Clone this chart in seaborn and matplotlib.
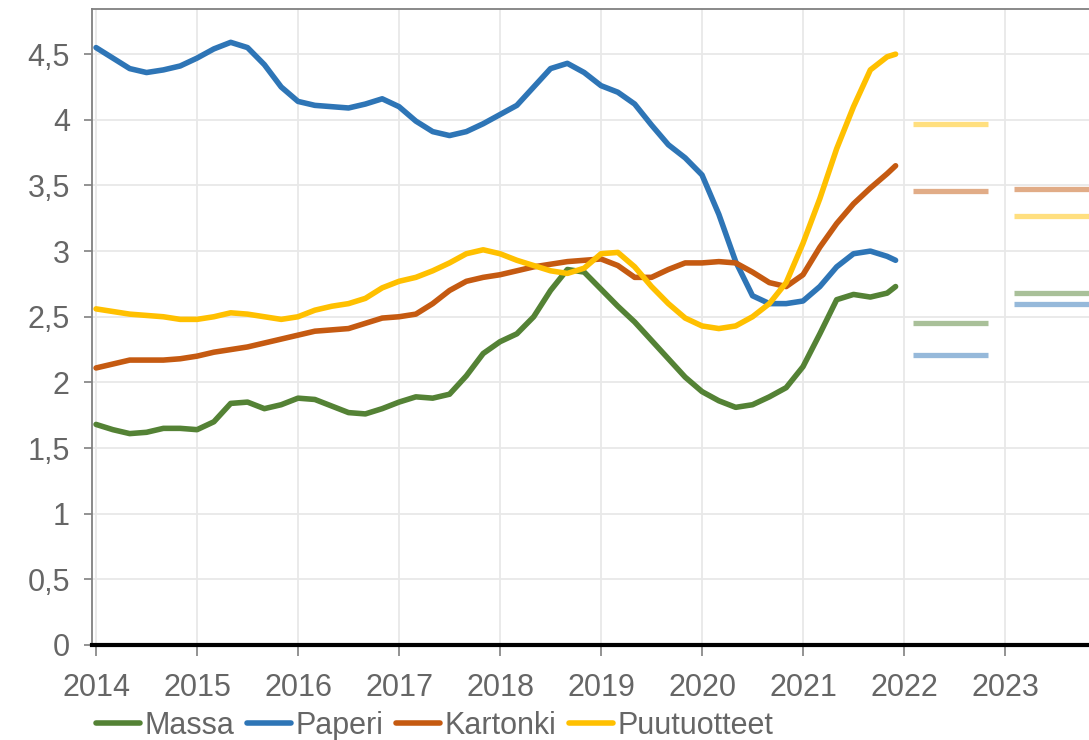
import matplotlib
matplotlib.use('Agg')

import numpy as np
import pandas as pd
import matplotlib.pyplot as plt
import seaborn as sns
from matplotlib.ticker import FuncFormatter

# readings every two months 2014..2021 plus Dec 2021
years = list(2014 + np.arange(48) / 6) + [2021 + 11 / 12]

massa = [1.68, 1.64, 1.61, 1.62, 1.65, 1.65,
         1.64, 1.70, 1.84, 1.85, 1.80, 1.83,
         1.88, 1.87, 1.82, 1.77, 1.76, 1.80,
         1.85, 1.89, 1.88, 1.91, 2.05, 2.22,
         2.31, 2.37, 2.50, 2.70, 2.86, 2.84,
         2.71, 2.58, 2.46, 2.32, 2.18, 2.04,
         1.93, 1.86, 1.81, 1.83, 1.89, 1.96,
         2.12, 2.37, 2.63, 2.67, 2.65, 2.68, 2.73]
paperi = [4.55, 4.47, 4.39, 4.36, 4.38, 4.41,
          4.47, 4.54, 4.59, 4.55, 4.42, 4.25,
          4.14, 4.11, 4.10, 4.09, 4.12, 4.16,
          4.10, 3.99, 3.91, 3.88, 3.91, 3.97,
          4.04, 4.11, 4.25, 4.39, 4.43, 4.36,
          4.26, 4.21, 4.12, 3.96, 3.81, 3.71,
          3.58, 3.28, 2.92, 2.66, 2.60, 2.60,
          2.62, 2.73, 2.88, 2.98, 3.00, 2.96, 2.93]
kartonki = [2.11, 2.14, 2.17, 2.17, 2.17, 2.18,
            2.20, 2.23, 2.25, 2.27, 2.30, 2.33,
            2.36, 2.39, 2.40, 2.41, 2.45, 2.49,
            2.50, 2.52, 2.60, 2.70, 2.77, 2.80,
            2.82, 2.85, 2.88, 2.90, 2.92, 2.93,
            2.94, 2.89, 2.80, 2.80, 2.86, 2.91,
            2.91, 2.92, 2.91, 2.84, 2.76, 2.73,
            2.82, 3.03, 3.21, 3.36, 3.48, 3.59, 3.65]
puutuotteet = [2.56, 2.54, 2.52, 2.51, 2.50, 2.48,
               2.48, 2.50, 2.53, 2.52, 2.50, 2.48,
               2.50, 2.55, 2.58, 2.60, 2.64, 2.72,
               2.77, 2.80, 2.85, 2.91, 2.98, 3.01,
               2.98, 2.93, 2.89, 2.85, 2.83, 2.87,
               2.98, 2.99, 2.88, 2.73, 2.60, 2.49,
               2.43, 2.41, 2.43, 2.50, 2.60, 2.76,
               3.06, 3.40, 3.78, 4.10, 4.38, 4.48, 4.50]

series_names = ['Massa', 'Paperi', 'Kartonki', 'Puutuotteet']
colors = ['#548235', '#2E75B6', '#C55A11', '#FFC000']

# forecasts for 2022 and 2023
forecast_years = [2022, 2023]
fc_massa = [2.45, 2.68]
fc_paperi = [2.21, 2.60]
fc_kartonki = [3.46, 3.47]
fc_puutuotteet = [3.97, 3.27]

df = pd.DataFrame({
    'vuosi': years * 4,
    'arvo': massa + paperi + kartonki + puutuotteet,
    'sarja': sum([[n] * len(years) for n in series_names], []),
})
fc = {'Massa': fc_massa, 'Paperi': fc_paperi,
      'Kartonki': fc_kartonki, 'Puutuotteet': fc_puutuotteet}

sns.set_theme(style='white')
plt.rcParams['font.family'] = ['Liberation Sans', 'DejaVu Sans']

fig = plt.figure(figsize=(10.89, 7.40), dpi=100)
ax = fig.add_axes([92 / 1089, 95 / 740, 997 / 1089, 636 / 740])

palette = dict(zip(series_names, colors))
sns.lineplot(data=df, x='vuosi', y='arvo', hue='sarja', palette=palette,
             linewidth=4, legend=False, ax=ax)
for ln in ax.lines:
    ln.set_solid_capstyle('round')
    ln.set_solid_joinstyle('round')

for name in series_names:
    for yr, v in zip(forecast_years, fc[name]):
        ax.hlines(v, yr + 0.09, yr + 0.83, color=palette[name], alpha=0.5,
                  lw=3.8)

ax.set_xlim(2013.96, 2014 + 993 / 101)
ax.set_ylim(0, 636 / 131.3)
ax.set_xticks(range(2014, 2024))
ax.set_yticks(np.arange(0, 4.6, 0.5))
ax.yaxis.set_major_formatter(FuncFormatter(lambda v, p: f'{v:g}'.replace('.', ',')))
ax.set_xlabel('')
ax.set_ylabel('')

ax.grid(True, color='#e8e8e8', lw=1.3)
ax.set_axisbelow(True)

for s in ['left', 'top']:
    ax.spines[s].set_color('#808080')
    ax.spines[s].set_linewidth(1.3)
ax.spines['right'].set_visible(False)
ax.spines['bottom'].set_color('black')
ax.spines['bottom'].set_linewidth(3)

ax.tick_params(axis='y', direction='out', length=6, width=1.2, color='#808080',
               labelcolor='#666666', labelsize=22, pad=10, left=True)
ax.tick_params(axis='x', direction='out', length=8, width=1.2, color='#808080',
               labelcolor='#666666', labelsize=22, pad=12, bottom=True)

handles = ax.lines[:4]
fig.legend(handles, series_names, loc='center left',
           bbox_to_anchor=(96 / 1089, 14 / 740), ncol=4, frameon=False,
           fontsize=22, labelcolor='#666666', handlelength=1.45,
           handletextpad=0.15, columnspacing=0.4, borderpad=0,
           borderaxespad=0)

fig.savefig('out.png', dpi=100)
